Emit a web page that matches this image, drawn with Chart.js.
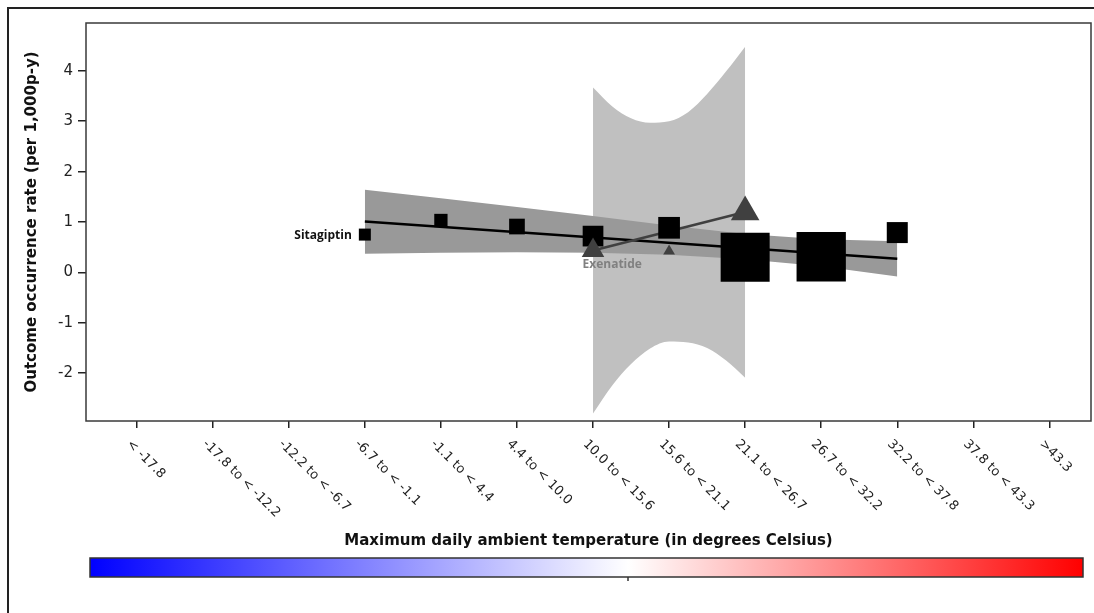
<!DOCTYPE html>
<html lang="en">
<head>
    <meta charset="UTF-8">
    <title>Outcome occurrence rate by maximum daily ambient temperature</title>
    <script src="https://cdn.jsdelivr.net/npm/chart.js"></script>
    <style>
        html, body {
            margin: 0;
            background: white;
            overflow: hidden;
        }
        canvas {
            display: block;
        }
    </style>
</head>
<body>
    <canvas id="rateChart" width="1094" height="613"></canvas>

    <script>
        // temperature bins (x categories)
        const xLabels = ["< -17.8", "-17.8 to < -12.2", "-12.2 to < -6.7", "-6.7 to < -1.1",
            "-1.1 to < 4.4", "4.4 to < 10.0", "10.0 to < 15.6", "15.6 to < 21.1",
            "21.1 to < 26.7", "26.7 to < 32.2", "32.2 to < 37.8", "37.8 to < 43.3", ">43.3"];

        // Sitagliptin: observed rates, fitted line and confidence band
        const sitaX = [3, 4, 5, 6, 7, 8, 9, 10];
        const sitaRate = [0.75, 1.03, 0.91, 0.72, 0.885, 0.30, 0.31, 0.79];
        const sitaFitX = [3, 10];
        const sitaFit = [1.01, 0.27];
        const sitaUpper = [1.64, 1.47, 1.30, 1.12, 0.93, 0.76, 0.66, 0.62];
        const sitaLower = [0.37, 0.39, 0.40, 0.39, 0.35, 0.26, 0.12, -0.08];

        // Exenatide
        const exenX = [6, 7, 8];
        const exenRate = [0.435, 0.42, 1.20];
        const exenFitX = [6, 8];
        const exenFit = [0.435, 1.20];
        const exenBandX = [6, 6.25, 6.5, 6.75, 7, 7.25, 7.5, 7.75, 8];
        const exenUpper = [3.67, 3.30, 3.06, 2.97, 3.00, 3.18, 3.54, 3.99, 4.48];
        const exenLower = [-2.80, -2.25, -1.82, -1.51, -1.37, -1.39, -1.50, -1.75, -2.09];

        // marker sizes (px), square side and triangle radius
        const sitaSide = [12, 13.3, 15.7, 20.7, 21.7, 49, 49.3, 21];
        const exenRadius = [13, 6.8, 16.5];

        const pts = (xs, ys) => xs.map((x, i) => ({ x: x, y: ys[i] }));

        const frame = {
            id: "frame",
            beforeDraw(chart) {
                const ctx = chart.ctx;
                ctx.save();
                ctx.fillStyle = "white";
                ctx.fillRect(0, 0, chart.width, chart.height);
                ctx.restore();
            },
            afterDraw(chart) {
                const ctx = chart.ctx;
                const a = chart.chartArea;
                const xs = chart.scales.x;
                const ys = chart.scales.y;
                ctx.save();

                // plot box
                ctx.strokeStyle = "#3a3a3a";
                ctx.lineWidth = 1.5;
                ctx.strokeRect(a.left, a.top, a.right - a.left, a.bottom - a.top);

                // outer frame
                ctx.strokeStyle = "#222";
                ctx.lineWidth = 2;
                ctx.strokeRect(8, 8, 1200, 800);

                // rotated category labels
                ctx.fillStyle = "#222";
                ctx.font = "13px 'DejaVu Sans'";
                ctx.textAlign = "left";
                ctx.textBaseline = "middle";
                xLabels.forEach((lab, i) => {
                    const px = xs.getPixelForValue(i);
                    ctx.save();
                    ctx.translate(px - 8, 442);
                    ctx.rotate(Math.PI / 4);
                    ctx.fillText(lab, 0, 0);
                    ctx.restore();
                });

                // series labels
                ctx.font = "bold 12px 'Open Sans'";
                ctx.fillStyle = "#111";
                ctx.textAlign = "right";
                ctx.fillText("Sitagiptin", xs.getPixelForValue(sitaX[0]) - 13, ys.getPixelForValue(sitaRate[0]) + 1);
                ctx.fillStyle = "#808080";
                ctx.textAlign = "left";
                ctx.fillText("Exenatide", xs.getPixelForValue(exenX[0]) - 10.5, ys.getPixelForValue(exenRate[0]) + 14);

                // colour bar
                const g = ctx.createLinearGradient(90, 0, 1083, 0);
                g.addColorStop(0, "#0000ff");
                g.addColorStop(0.542, "#ffffff");
                g.addColorStop(1, "#ff0000");
                ctx.fillStyle = g;
                ctx.fillRect(90, 558, 993, 19);
                ctx.strokeStyle = "#333";
                ctx.lineWidth = 1.5;
                ctx.strokeRect(90, 558, 993, 19);
                ctx.beginPath();
                ctx.moveTo(628, 577);
                ctx.lineTo(628, 581);
                ctx.stroke();

                ctx.restore();
            }
        };

        const ctx = document.getElementById("rateChart").getContext("2d");
        Chart.defaults.font.family = "'DejaVu Sans'";
        Chart.defaults.color = "#222";

        new Chart(ctx, {
            type: "line",
            data: {
                datasets: [
                    {
                        label: "Exenatide",
                        data: pts(exenX, exenRate),
                        showLine: false,
                        pointStyle: "triangle",
                        pointRadius: exenRadius,
                        pointBorderWidth: 0,
                        pointBackgroundColor: "#404040",
                        order: 0
                    },
                    {
                        label: "Sitagliptin",
                        data: pts(sitaX, sitaRate),
                        showLine: false,
                        pointStyle: "rect",
                        pointRadius: sitaSide.map(s => s / Math.SQRT2),
                        pointBorderWidth: 0,
                        pointBackgroundColor: "#000",
                        order: 1
                    },
                    {
                        label: "Exenatide fit",
                        data: pts(exenFitX, exenFit),
                        borderColor: "#404040",
                        borderWidth: 2.5,
                        pointRadius: 0,
                        fill: false,
                        order: 2
                    },
                    {
                        label: "Sitagliptin fit",
                        data: pts(sitaFitX, sitaFit),
                        borderColor: "#000",
                        borderWidth: 2.5,
                        pointRadius: 0,
                        fill: false,
                        order: 3
                    },
                    {
                        label: "Sitagliptin upper",
                        data: pts(sitaX, sitaUpper),
                        borderWidth: 0,
                        pointRadius: 0,
                        backgroundColor: "#999999",
                        fill: "+1",
                        order: 4
                    },
                    {
                        label: "Sitagliptin lower",
                        data: pts(sitaX, sitaLower),
                        borderWidth: 0,
                        pointRadius: 0,
                        fill: false,
                        order: 5
                    },
                    {
                        label: "Exenatide upper",
                        data: pts(exenBandX, exenUpper),
                        borderWidth: 0,
                        pointRadius: 0,
                        cubicInterpolationMode: "monotone",
                        backgroundColor: "#c0c0c0",
                        fill: "+1",
                        order: 6
                    },
                    {
                        label: "Exenatide lower",
                        data: pts(exenBandX, exenLower),
                        borderWidth: 0,
                        pointRadius: 0,
                        cubicInterpolationMode: "monotone",
                        fill: false,
                        order: 7
                    }
                ]
            },
            options: {
                responsive: false,
                animation: false,
                events: [],
                layout: { autoPadding: false, padding: { top: 23, right: 3, left: 0, bottom: 0 } },
                plugins: {
                    legend: { display: false },
                    tooltip: { enabled: false }
                },
                scales: {
                    x: {
                        type: "linear",
                        min: -0.666,
                        max: 12.547,
                        afterBuildTicks: (s) => { s.ticks = xLabels.map((_, i) => ({ value: i })); },
                        afterFit: (s) => { s.height = 192; },
                        ticks: { display: false },
                        grid: { drawOnChartArea: false, drawTicks: true, tickLength: 7, color: "#222", lineWidth: 1.5 },
                        border: { display: false },
                        title: {
                            display: true,
                            text: "Maximum daily ambient temperature (in degrees Celsius)",
                            font: { size: 15, weight: "bold" },
                            color: "#111",
                            padding: { top: 0, bottom: 63 }
                        }
                    },
                    y: {
                        min: -2.95,
                        max: 4.95,
                        afterFit: (s) => { s.width = 86; },
                        ticks: { stepSize: 1, includeBounds: false, padding: 5, font: { size: 15 }, color: "#222" },
                        grid: { drawOnChartArea: false, drawTicks: true, tickLength: 8, color: "#222", lineWidth: 1.5 },
                        border: { display: false },
                        title: {
                            display: true,
                            text: "Outcome occurrence rate (per 1,000p-y)",
                            font: { size: 15, weight: "bold" },
                            color: "#111",
                            padding: { top: 23, bottom: 0 }
                        }
                    }
                }
            },
            plugins: [frame]
        });
    </script>
</body>
</html>
